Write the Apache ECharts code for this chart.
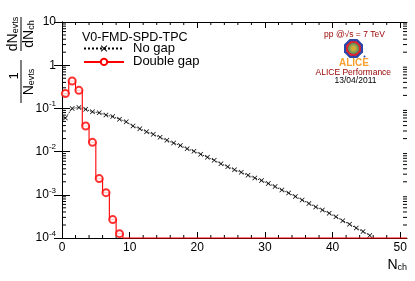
<!DOCTYPE html>
<html><head><meta charset="utf-8">
<script src="https://cdn.jsdelivr.net/npm/echarts@6/dist/echarts.min.js"></script>
<style>html,body{margin:0;padding:0;background:#fff}#c{width:415px;height:281px}</style>
</head><body><div id="c"></div>
<script>
// ---- data ----
const noGapCenters = [0.5,1.5,2.5,3.5,4.5,5.5,6.5,7.5,8.5,9.5,10.5,11.5,12.5,13.5,14.5,15.5,16.5,17.5,18.5,19.5,20.5,21.5,22.5,23.5,24.5,25.5,26.5,27.5,28.5,29.5,30.5,31.5,32.5,33.5,34.5,35.5,36.5,37.5,38.5,39.5,40.5,41.5,42.5,43.5,44.5,45.5];
const noGapValues = [0.0603,0.100,0.105,0.0955,0.0832,0.0794,0.0708,0.0646,0.0562,0.0490,0.0389,0.0339,0.0288,0.0251,0.0214,0.0182,0.0158,0.0138,0.0117,0.0102,0.00871,0.00741,0.00631,0.00525,0.00447,0.00380,0.00331,0.00282,0.00245,0.00214,0.00182,0.00155,0.00129,0.00110,0.000912,0.000759,0.000631,0.000525,0.000447,0.000372,0.000309,0.000251,0.000209,0.000170,0.000141,0.000115];
// histogram bins of width 1 starting at N_ch = 0 (bins 0..50)
const doubleGapBinLow = [0,1,2,3,4,5,6,7,8,9,10,11,12,13,14,15,16,17,18,19,20,21,22,23,24,25,26,27,28,29,30,31,32,33,34,35,36,37,38,39,40,41,42,43,44,45,46,47,48,49,50];
const doubleGapValues = [0.220,0.430,0.262,0.0392,0.0164,0.00237,0.00112,0.000267,0.000126,0,0,0,0,0,0,0,0,0,0,0,0,0,0,0,0,0,0,0,0,0,0,0,0,0,0,0,0,0,0,0,0,0,0,0,0,0,0,0,0,0,0];
const xTickLabels = [0,10,20,30,40,50];

const X_MIN = 0, X_MAX = 51, Y_MIN = 1e-4, Y_MAX = 10;
const FONT = 'Liberation Sans';
const RED = '#ff0000';

// step histogram outline (zero bins drawn on the frame bottom, as ROOT does)
const stepData = doubleGapBinLow.map((x, i) => [x, doubleGapValues[i] > 0 ? doubleGapValues[i] : Y_MIN]);
stepData.push([X_MAX, stepData[stepData.length - 1][1]]);
const circleData = doubleGapBinLow.map((x, i) => [x + 0.5, doubleGapValues[i]]).filter(d => d[1] > 0);
const noGapData = noGapCenters.map((x, i) => [x, noGapValues[i]]);

// minor tick positions
const xMinor = [];
for (let v = 2; v < 51; v += 2) if (v % 10 !== 0) xMinor.push([v, Y_MIN]);
const yMinor = [];
for (let e = -4; e < 1; e++) for (let m = 2; m <= 9; m++) yMinor.push([0, m * Math.pow(10, e)]);

const XPATH = 'path://M0,1L1,0L5,4L9,0L10,1L6,5L10,9L9,10L5,6L1,10L0,9L4,5Z';

const chart = echarts.init(document.getElementById('c'), null, {renderer: 'canvas'});

function yLabel(v) {
  const e = Math.round(Math.log10(v));
  if (e === 1) return '{b|10}';
  if (e === 0) return '{b|1}';
  return '{b|10}{s|' + e + '}';
}
const R90 = Math.PI / 2;
const subRich = {s: {fontSize: 9, fontFamily: FONT, fill: '#000', padding: [6, 0, 0, 0]}};
function rotText(x, y, text) {
  return {type: 'text', x: x, y: y, rotation: R90,
    style: {text: text, align: 'center', verticalAlign: 'middle', fill: '#000', font: '14px ' + FONT, rich: subRich}};
}

const axisLineStyle = {show: true, lineStyle: {color: '#000', width: 1}};
const option = {
  animation: false,
  textStyle: {fontFamily: FONT},
  grid: {left: 62, right: 8, top: 22, bottom: 43, containLabel: false, outerBoundsMode: 'none'},
  xAxis: [
    {type: 'value', min: X_MIN, max: X_MAX, position: 'bottom',
     axisLine: axisLineStyle, splitLine: {show: false},
     axisTick: {show: true, inside: true, length: 6, customValues: xTickLabels, lineStyle: {color: '#000'}},
     axisLabel: {show: true, customValues: xTickLabels, margin: 4, fontSize: 12, color: '#000', fontFamily: FONT}},
    {type: 'value', min: X_MIN, max: X_MAX, position: 'top',
     axisLine: axisLineStyle, splitLine: {show: false},
     axisTick: {show: true, inside: true, length: 6, customValues: xTickLabels, lineStyle: {color: '#000'}},
     axisLabel: {show: false}}
  ],
  yAxis: [
    {type: 'log', logBase: 10, min: Y_MIN, max: Y_MAX, position: 'left',
     axisLine: axisLineStyle, splitLine: {show: false},
     axisTick: {show: true, inside: true, length: 8, lineStyle: {color: '#000'}},
     axisLabel: {show: true, margin: 6, color: '#000', formatter: yLabel,
       rich: {b: {fontSize: 12, fontFamily: FONT, color: '#000'},
              s: {fontSize: 8, fontFamily: FONT, color: '#000', padding: [0, 0, 9, 0]}}}},
    {type: 'log', logBase: 10, min: Y_MIN, max: Y_MAX, position: 'right',
     axisLine: axisLineStyle, splitLine: {show: false},
     axisTick: {show: true, inside: true, length: 8, lineStyle: {color: '#000'}},
     axisLabel: {show: false}}
  ],
  legend: {
    orient: 'vertical', left: 78, top: 37, itemWidth: 40, itemHeight: 8, itemGap: 0.4,
    selectedMode: false, data: ['No gap', 'Double gap'],
    textStyle: {fontSize: 13, color: '#000', fontFamily: FONT, padding: [0, 0, 0, 4]}
  },
  title: {text: 'V0-FMD-SPD-TPC', left: 77, top: 26,
    textStyle: {fontSize: 12.5, fontWeight: 'normal', color: '#000', fontFamily: FONT}},
  series: [
    {name: 'Double gap', type: 'line', step: 'end', data: stepData, showSymbol: false,
     symbol: 'circle', symbolSize: 7, clip: false,
     itemStyle: {color: '#fff', borderColor: RED, borderWidth: 1},
     lineStyle: {color: RED, width: 1.1}, z: 3},
    {name: 'Double gap markers', type: 'scatter', data: circleData, symbol: 'emptyCircle',
     symbolSize: 7, itemStyle: {color: RED, borderWidth: 1}, z: 4},
    {name: 'No gap', type: 'line', data: noGapData, symbol: XPATH, symbolSize: 5,
     showAllSymbol: true, itemStyle: {color: '#000'},
     lineStyle: {color: '#000', width: 1, type: 'dotted'}, z: 2},
    {name: 'xminor', type: 'custom', data: xMinor, clip: false, silent: true,
     renderItem: (params, api) => {
       const b = api.coord([api.value(0), Y_MIN]);
       const t = api.coord([api.value(0), Y_MAX]);
       const st = {stroke: '#000', lineWidth: 1};
       return {type: 'group', children: [
         {type: 'line', shape: {x1: b[0], y1: b[1], x2: b[0], y2: b[1] - 3}, style: st},
         {type: 'line', shape: {x1: t[0], y1: t[1], x2: t[0], y2: t[1] + 3}, style: st}]};
     }},
    {name: 'yminor', type: 'custom', data: yMinor, clip: false, silent: true,
     renderItem: (params, api) => {
       const l = api.coord([X_MIN, api.value(1)]);
       const r = api.coord([X_MAX, api.value(1)]);
       const st = {stroke: '#000', lineWidth: 1};
       return {type: 'group', children: [
         {type: 'line', shape: {x1: l[0], y1: l[1], x2: l[0] + 4, y2: l[1]}, style: st},
         {type: 'line', shape: {x1: r[0], y1: r[1], x2: r[0] - 4, y2: r[1]}, style: st}]};
     }}
  ],
  graphic: [
    // x axis title
    {type: 'text', x: 407, y: 265, style: {text: 'N{s|ch}', align: 'right', verticalAlign: 'middle',
      fill: '#000', font: '14px ' + FONT, rich: subRich}},
    // y axis title: 1/N_evts dN_evts/dN_ch, rotated
    {type: 'line', shape: {x1: 21, y1: 60, x2: 21, y2: 103}, style: {stroke: '#000', lineWidth: 1}},
    {type: 'text', x: 14, y: 76, rotation: R90, style: {text: '1', align: 'center', verticalAlign: 'middle', fill: '#000', font: '13px ' + FONT}},
    rotText(29, 82, 'N{s|evts}'),
    {type: 'line', shape: {x1: 21, y1: 17, x2: 21, y2: 51}, style: {stroke: '#000', lineWidth: 1}},
    rotText(13, 34, 'dN{s|evts}'),
    rotText(29, 34, 'dN{s|ch}'),
    // ALICE block
    {type: 'text', x: 354.5, y: 34.5, style: {text: 'pp @√s = 7 TeV', align: 'center', verticalAlign: 'middle', fill: '#990000', font: '8.5px ' + FONT}},
    {type: 'polygon', shape: {points: [[349.6,39],[357.4,39],[363,44.5],[363,52.3],[357.4,58],[349.6,58],[344,52.3],[344,44.5]]}, style: {fill: '#2a46a8'}},
    {type: 'polygon', shape: {points: [[350.5,41.2],[356.5,41.2],[360.8,45.5],[360.8,51.3],[356.5,55.7],[350.5,55.7],[346.2,51.3],[346.2,45.5]]}, style: {fill: '#e8202a'}},
    {type: 'circle', shape: {cx: 353.5, cy: 48.4, r: 5.6}, style: {fill: {type: 'radial', x: 0.5, y: 0.5, r: 0.5,
      colorStops: [{offset: 0, color: '#f6a020'}, {offset: 0.35, color: '#c8b040'}, {offset: 1, color: '#4e8a62'}]}}},
    {type: 'circle', shape: {cx: 364.5, cy: 56.5, r: 1}, style: {fill: '#2a46a8'}},
    {type: 'text', x: 354, y: 63.5, style: {text: 'ALICE', align: 'center', verticalAlign: 'middle', fill: '#f5a030', font: 'bold 10px ' + FONT}},
    {type: 'text', x: 353.3, y: 72.5, style: {text: 'ALICE Performance', align: 'center', verticalAlign: 'middle', fill: '#990000', font: '8.5px ' + FONT}},
    {type: 'text', x: 355.5, y: 81, style: {text: '13/04/2011', align: 'center', verticalAlign: 'middle', fill: '#000', font: '8.5px ' + FONT}}
  ]
};
chart.setOption(option);
</script>
</body></html>
